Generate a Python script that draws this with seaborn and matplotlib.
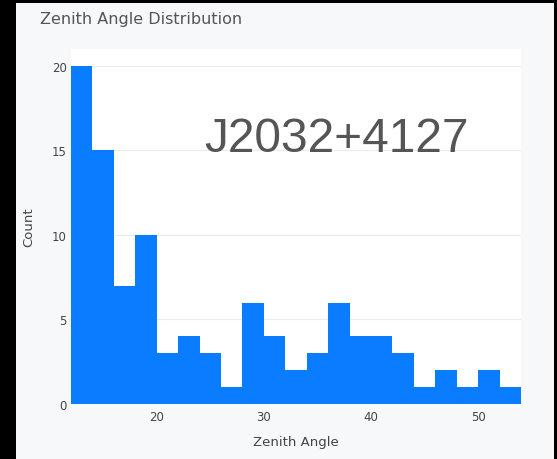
import numpy as np
import pandas as pd
import matplotlib
matplotlib.use("Agg")
import matplotlib.pyplot as plt
from matplotlib.patches import Rectangle
import seaborn as sns

# Histogram of zenith angles, 2-degree bins
bin_edges = [12, 14, 16, 18, 20, 22, 24, 26, 28, 30, 32, 34, 36, 38, 40,
             42, 44, 46, 48, 50, 52, 54]
counts = [20, 15, 7, 10, 3, 4, 3, 1, 6, 4, 2, 3, 6, 4, 4, 3, 1, 2, 1, 2, 1]
y_ticks = [0, 5, 10, 15, 20]
x_ticks = [20, 30, 40, 50]
source_name = "J2032+4127"

centers = [(a + b) / 2 for a, b in zip(bin_edges[:-1], bin_edges[1:])]
df = pd.DataFrame({"Zenith Angle": centers, "Count": counts})

sns.set_theme(style="white")
plt.rcParams["font.family"] = ["DejaVu Sans"]

W, H = 557, 460
fig = plt.figure(figsize=(W / 100, H / 100), dpi=100, facecolor="black")

# light card behind the chart
card = Rectangle((16 / W, 0), (554 - 16) / W, (460 - 4) / H,
                 transform=fig.transFigure, facecolor="#f6f8fa",
                 edgecolor="none", zorder=-10)
fig.add_artist(card)

ax = fig.add_axes([71 / W, 1 - 405 / H, (521 - 71) / W, (405 - 50) / H])
ax.set_zorder(1)
ax.set_facecolor("white")

sns.histplot(data=df, x="Zenith Angle", weights="Count", bins=bin_edges,
             color="#0a7cff", alpha=1.0, edgecolor="none", linewidth=0,
             element="step", ax=ax)

ax.set_xlim(12, 54)
ax.set_ylim(0, 21.0)
ax.set_yticks(y_ticks)
ax.set_xticks(x_ticks)
ax.yaxis.grid(True, color="#ececec", linewidth=0.8)
ax.set_axisbelow(True)
for s in ax.spines.values():
    s.set_visible(False)
ax.tick_params(axis="both", length=0, labelsize=8.5, labelcolor="#444444")
ax.tick_params(axis="y", pad=3)
ax.tick_params(axis="x", pad=4)

ax.set_xlabel("Zenith Angle", fontsize=9.5, color="#444444", labelpad=9)
ax.set_ylabel("Count", fontsize=9.5, color="#444444", labelpad=12)

fig.text(40 / W, 1 - 24 / H, "Zenith Angle Distribution", fontsize=11.5,
         color="#555555", ha="left", va="baseline")

ax.text(0.589, 0.713, source_name, transform=ax.transAxes, fontsize=34.5,
        family="Liberation Sans", color="#555555",
        ha="center", va="baseline")

fig.savefig("out.png", dpi=100, facecolor=fig.get_facecolor())
